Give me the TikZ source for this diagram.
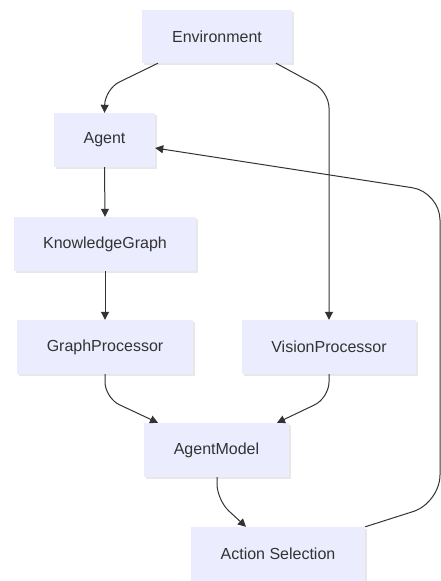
\documentclass[tikz,border=0pt]{standalone}
\usepackage{fontspec}
\setmainfont{Liberation Sans}
\usetikzlibrary{arrows.meta,shadows}
\definecolor{boxfill}{RGB}{236,236,255}
\definecolor{ink}{RGB}{51,51,51}
\tikzset{
  box/.style={rectangle, fill=boxfill, draw=none, text=ink,
    font=\fontsize{16}{19}\selectfont, inner sep=0pt,
    drop shadow={shadow xshift=1.5pt, shadow yshift=-1.5pt, fill=black!18}},
  link/.style={draw=ink, line width=1pt, rounded corners=16pt,
    -{Triangle[length=8pt,width=8pt]}}
}
\begin{document}
\begin{tikzpicture}[x=1pt,y=-1pt]
\useasboundingbox (0,0) rectangle (441,581);

% nodes
\node[box, minimum width=150pt, minimum height=53pt] (env) at (217,36.5) {Environment};
\node[box, minimum width=101pt, minimum height=54pt] (agent) at (104.5,140) {Agent};
\node[box, minimum width=182pt, minimum height=54pt] (kg) at (105,244) {KnowledgeGraph};
\node[box, minimum width=176pt, minimum height=54pt] (gp) at (105,347) {GraphProcessor};
\node[box, minimum width=174pt, minimum height=54pt] (vp) at (329,347) {VisionProcessor};
\node[box, minimum width=145pt, minimum height=54pt] (am) at (216.5,450) {AgentModel};
\node[box, minimum width=174pt, minimum height=54pt] (as) at (278,554) {Action Selection};

% bend points of the routed links
\coordinate (c1) at (105,89);
\coordinate (c2) at (329,92);
\coordinate (c3) at (105,398);
\coordinate (c4) at (329,398);
\coordinate (c5) at (217,500);
\coordinate (c6) at (440,503);
\coordinate (c7) at (440,192);

% links
\draw[link] ([xshift=-59pt]env.south) -- (c1) -- (agent.north);
\draw[link] ([xshift=59pt]env.south) -- (c2) -- (vp.north);
\draw[link] (agent.south) -- (kg.north);
\draw[link] (kg.south) -- (gp.north);
\draw[link] (gp.south) -- (c3) -- ([xshift=-58.5pt]am.north);
\draw[link] (vp.south) -- (c4) -- ([xshift=60.5pt]am.north);
\draw[link] ([xshift=0.5pt]am.south) -- (c5) -- ([xshift=-32pt]as.north);
\draw[link, rounded corners=28pt] (as.north east) -- (c6) -- (c7) -- ([yshift=-8pt]agent.east);
\end{tikzpicture}
\end{document}
